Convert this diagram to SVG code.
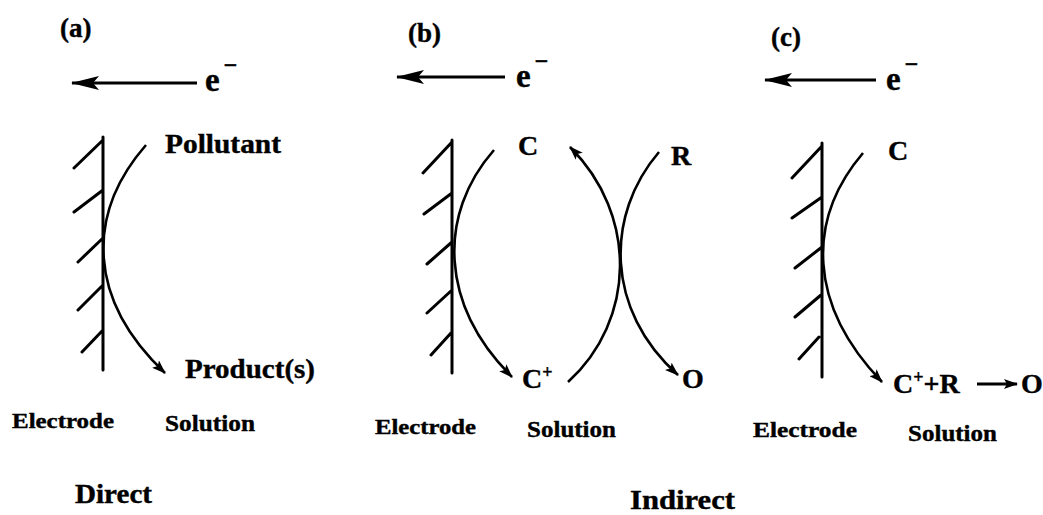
<svg xmlns="http://www.w3.org/2000/svg" width="1043" height="515" viewBox="0 0 1043 515">
<style>
text{font-family:"Liberation Serif","DejaVu Serif",serif;font-weight:bold;fill:#000;stroke:#000;stroke-width:0.4}
.lbl{font-size:28px}
.tag{font-size:27px}
.el{font-size:21px}
.sol{font-size:24px}
.e{font-size:33px}
.sup{font-size:24px}
.wall{stroke:#000;stroke-width:3;fill:none;stroke-linecap:round}
.cv{stroke:#000;stroke-width:2.6;fill:none}
.ea{stroke:#000;stroke-width:3.2;fill:none}
</style>
<defs>
<marker id="ah" viewBox="0 0 14 10" refX="13" refY="5" markerWidth="14" markerHeight="10" markerUnits="userSpaceOnUse" orient="auto">
<path d="M0,0 L14,5 L0,10 L3,5 Z" fill="#000"/>
</marker>
<marker id="eh" viewBox="0 0 28 16" refX="27" refY="8" markerWidth="28" markerHeight="16" markerUnits="userSpaceOnUse" orient="auto">
<path d="M0,1 L28,8 L0,15 L6,8 Z" fill="#000"/>
</marker>
</defs>

<g id="panel-a">
<text class="tag" x="60" y="37">(a)</text>
<g id="electrode-a">
<path class="wall" d="M103,137 V370 M103,140 L74,168 M103,190 L74,212 M103,238 L78,262 M103,285 L78,310 M103,330 L82,352"/>
</g>
<text id="e-a" class="e" x="205" y="91">e<tspan class="sup" dx="4" dy="-18">−</tspan></text>
<text id="pollutant" class="lbl" x="165" y="153" textLength="116" lengthAdjust="spacingAndGlyphs">Pollutant</text>
<text id="products" class="lbl" x="185" y="378" textLength="130" lengthAdjust="spacingAndGlyphs">Product(s)</text>
<text class="el" x="12" y="428" textLength="102" lengthAdjust="spacingAndGlyphs">Electrode</text>
<text class="sol" x="165" y="431" textLength="90" lengthAdjust="spacingAndGlyphs">Solution</text>
<text id="direct" class="tag" x="75" y="503" textLength="77" lengthAdjust="spacingAndGlyphs">Direct</text>
</g>

<g id="panel-b">
<text class="tag" x="408" y="42">(b)</text>
<g id="electrode-b">
<path class="wall" d="M452,140 V373 M452,142 L423,173 M452,193 L424,214 M452,242 L427,264 M452,290 L427,313 M451,333 L431,355"/>
</g>
<text id="e-b" class="e" x="516" y="87">e<tspan class="sup" dx="4" dy="-18">−</tspan></text>
<text id="c-b" class="lbl" x="518" y="155">C</text>
<text id="r-b" class="lbl" x="671" y="165">R</text>
<text id="cplus-b" class="lbl" x="522" y="388">C<tspan font-size="18" dy="-10">+</tspan></text>
<text id="o-b" class="lbl" x="682" y="388">O</text>
<text class="el" x="375" y="434" textLength="101" lengthAdjust="spacingAndGlyphs">Electrode</text>
<text class="sol" x="527" y="437" textLength="89" lengthAdjust="spacingAndGlyphs">Solution</text>
<text id="indirect" class="tag" x="630" y="509" textLength="105" lengthAdjust="spacingAndGlyphs">Indirect</text>
</g>

<g id="panel-c">
<text class="tag" x="771" y="46">(c)</text>
<g id="electrode-c">
<path class="wall" d="M822,143 V377 M822,146 L792,178 M822,197 L792,218 M822,247 L795,268 M821,295 L795,317 M819,337 L799,359"/>
</g>
<text id="e-c" class="e" x="886" y="90">e<tspan class="sup" dx="4" dy="-18">−</tspan></text>
<text id="c-c" class="lbl" x="888" y="160">C</text>
<text id="cplusr-c" class="lbl" x="893" y="393">C<tspan font-size="18" dy="-10">+</tspan><tspan dy="10">+R</tspan></text>
<text id="o-c" class="lbl" x="1021" y="393">O</text>
<text class="el" x="753" y="437" textLength="104" lengthAdjust="spacingAndGlyphs">Electrode</text>
<text class="sol" x="908" y="441" textLength="89" lengthAdjust="spacingAndGlyphs">Solution</text>
</g>

<g id="connectors">
<path class="ea" d="M197,83 H72" marker-end="url(#eh)"/>
<path class="ea" d="M505,77 H397" marker-end="url(#eh)"/>
<path class="ea" d="M876,80 H765" marker-end="url(#eh)"/>
<path class="cv" d="M146,145 C85,215 88,300 165,373" marker-end="url(#ah)"/>
<path class="cv" d="M494,150 C437,215 440,305 512,377" marker-end="url(#ah)"/>
<path class="cv" d="M568,382 C636,320 638,215 570,147" marker-end="url(#ah)"/>
<path class="cv" d="M659,152 C605,215 605,310 678,375" marker-end="url(#ah)"/>
<path class="cv" d="M863,153 C806,220 808,305 882,382" marker-end="url(#ah)"/>
<path class="ea" d="M977,384 H1017" marker-end="url(#ah)"/>
</g>
</svg>
